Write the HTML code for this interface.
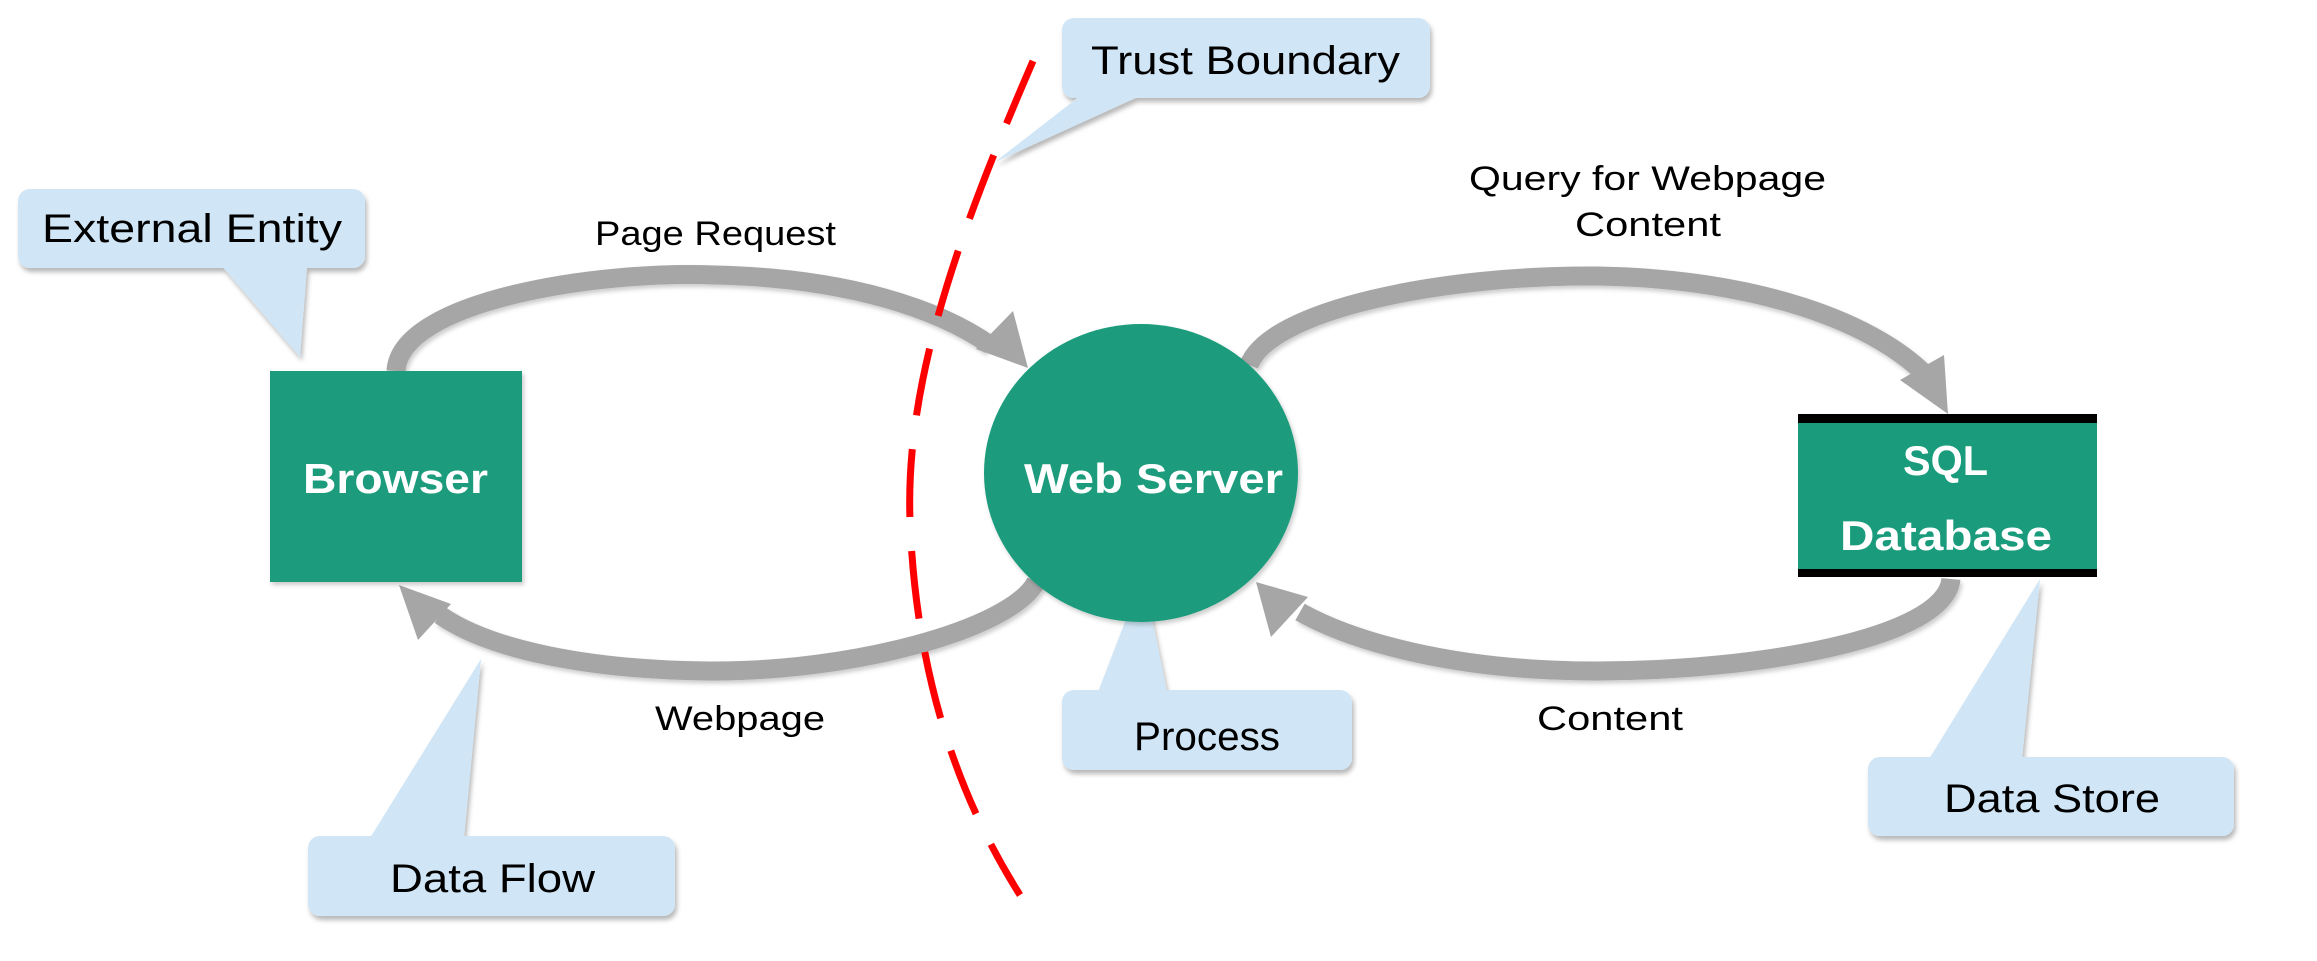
<!DOCTYPE html>
<html><head><meta charset="utf-8"><style>
html,body{margin:0;padding:0;background:#fff;}
svg{display:block;}
text{font-family:"Liberation Sans",sans-serif;}
</style></head><body>
<svg width="2317" height="961" viewBox="0 0 2317 961" xmlns="http://www.w3.org/2000/svg">
<defs>
<filter id="sh" x="-10%" y="-10%" width="130%" height="140%">
<feDropShadow dx="2" dy="4" stdDeviation="2.5" flood-color="#000" flood-opacity="0.28"/>
</filter>
<filter id="sh2" x="-10%" y="-10%" width="130%" height="130%">
<feDropShadow dx="2" dy="3" stdDeviation="2" flood-color="#000" flood-opacity="0.2"/>
</filter>
</defs>

<!-- callouts -->
<g fill="#d0e6f6" filter="url(#sh)">
  <rect x="18" y="189" width="347" height="79" rx="12"/>
  <polygon points="222,266 307,266 300,357"/>
  <rect x="1062" y="18" width="368" height="80" rx="12"/>
  <polygon points="1080,96 1140,96 995,162"/>
  <rect x="308" y="836" width="367" height="80" rx="12"/>
  <polygon points="370,838 464,838 481,659"/>
  <rect x="1062" y="690" width="290" height="80" rx="12"/>
  <polygon points="1098,692 1167,692 1143,575"/>
  <rect x="1868" y="757" width="366" height="79" rx="12"/>
  <polygon points="1929,759 2022,759 2040,579"/>
</g>

<!-- arrows -->
<g fill="none" stroke="#a6a6a6" stroke-width="19" filter="url(#sh2)">
  <path d="M396,371 C400,300 600,270 715,275 C850,278 940,310 990,345"/>
  <path d="M1036,582 C1010,630 850,672 710,671 C590,670 490,650 440,615"/>
  <path d="M1249,365 C1270,310 1440,275 1596,276 C1750,278 1880,320 1935,385"/>
  <path d="M1951,579 C1945,640 1750,671 1596,671 C1450,671 1350,640 1300,612"/>
</g>
<g fill="#a6a6a6">
  <polygon points="1028,368 976,349 1013,311"/>
  <polygon points="399,585 451,604 418,640"/>
  <polygon points="1948,414 1900,380 1944,355"/>
  <polygon points="1256,582 1308,597 1271,637"/>
</g>

<!-- nodes -->
<rect x="270" y="371" width="252" height="211" fill="#1a9c7c" filter="url(#sh2)"/>
<ellipse cx="1141" cy="473" rx="157" ry="149" fill="#1a9c7c" filter="url(#sh2)"/>
<rect x="1798" y="414" width="299" height="163" fill="#1a9c7c"/>
<rect x="1798" y="414" width="299" height="9" fill="#000"/>
<rect x="1798" y="569" width="299" height="8" fill="#000"/>

<!-- trust boundary -->
<path d="M1033,61 C960,230 905,380 910,520 C916,680 960,800 1020,895" fill="none" stroke="#ff0000" stroke-width="7" stroke-dasharray="68,34"/>

<!-- texts -->
<g fill="#000" font-size="40">
  <text x="42" y="242" textLength="300" lengthAdjust="spacingAndGlyphs">External Entity</text>
  <text x="1091" y="74" textLength="309" lengthAdjust="spacingAndGlyphs">Trust Boundary</text>
  <text x="390" y="892" textLength="205" lengthAdjust="spacingAndGlyphs">Data Flow</text>
  <text x="1134" y="750" textLength="146" lengthAdjust="spacingAndGlyphs">Process</text>
  <text x="1944" y="812" textLength="216" lengthAdjust="spacingAndGlyphs">Data Store</text>
</g>
<g fill="#000" font-size="34">
  <text x="595" y="245" textLength="241" lengthAdjust="spacingAndGlyphs">Page Request</text>
  <text x="655" y="730" textLength="170" lengthAdjust="spacingAndGlyphs">Webpage</text>
  <text x="1469" y="190" textLength="357" lengthAdjust="spacingAndGlyphs">Query for Webpage</text>
  <text x="1575" y="236" textLength="146" lengthAdjust="spacingAndGlyphs">Content</text>
  <text x="1537" y="730" textLength="146" lengthAdjust="spacingAndGlyphs">Content</text>
</g>
<g fill="#fff" font-size="42" font-weight="bold">
  <text x="303" y="493" textLength="185" lengthAdjust="spacingAndGlyphs">Browser</text>
  <text x="1024" y="493" textLength="259" lengthAdjust="spacingAndGlyphs">Web Server</text>
  <text x="1903" y="475" textLength="85" lengthAdjust="spacingAndGlyphs">SQL</text>
  <text x="1840" y="550" textLength="212" lengthAdjust="spacingAndGlyphs">Database</text>
</g>
</svg>
</body></html>
